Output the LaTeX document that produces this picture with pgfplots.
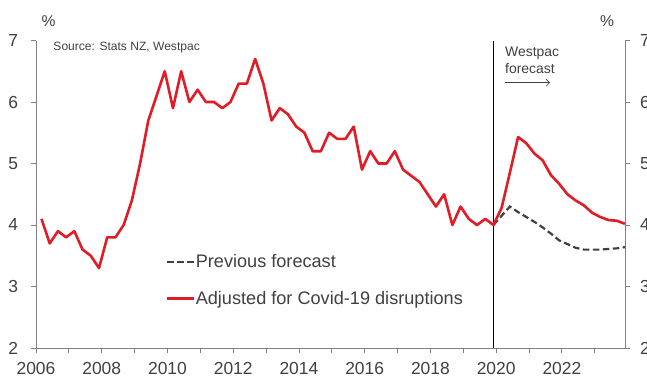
\documentclass[border=0pt]{standalone}
\usepackage{fontspec}
\setmainfont{Liberation Sans}
\usepackage{pgfplots}
\pgfplotsset{compat=1.18}
\usetikzlibrary{arrows.meta}
\definecolor{wred}{RGB}{226,28,38}
\definecolor{dgray}{RGB}{64,64,64}
\definecolor{agray}{RGB}{128,128,128}
\definecolor{tgray}{RGB}{64,64,64}

\begin{document}
\begin{tikzpicture}
\pgfplotsset{
  common/.style={
    at={(0,0)}, anchor=south west,
    scale only axis, width=589bp, height=307.5bp,
    xmin=2006, xmax=2023.92, ymin=2, ymax=7,
    ytick={2,3,4,5,6,7},
    tick align=outside,
    major tick length=5bp, minor tick length=5bp,
    axis line style={agray, line width=0.8bp, -},
    tick style={agray, line width=0.8bp},
    tick label style={font=\fontsize{17.5}{20}\selectfont, text=tgray},
    /pgf/number format/assume math mode=true,
    clip=false,
  }
}
\begin{axis}[common,
  axis x line*=bottom, axis y line*=left,
  xtick={2006,2008,...,2022}, minor xtick={2007,2009,...,2023},
  x tick label style={/pgf/number format/1000 sep={}, anchor=north, inner sep=0pt, yshift=-9bp},
  yticklabel style={anchor=east, inner sep=0pt, xshift=-12.7bp},
  legend style={at={(0.2207,0.2207)}, anchor=west, draw=none, fill=none, inner sep=0pt,
    font=\fontsize{18.2}{21}\selectfont, text=tgray, row sep=21.5bp, column sep=0bp,
    nodes={inner sep=0pt}},
  legend cell align=left,
  legend image code/.code={\draw[#1] (0bp,0bp) -- (27bp,0bp);},
]
\addplot[black, line width=0.9bp, forget plot] coordinates {(2019.917,2) (2019.917,7)};

\addplot[dgray, line width=2.2bp, dash pattern=on 6.5bp off 3.5bp] coordinates {
(2019.917,4.00) (2020.167,4.15) (2020.417,4.30) (2020.667,4.21) (2020.917,4.13)
(2021.167,4.05) (2021.417,3.96) (2021.667,3.86) (2021.917,3.75)
(2022.167,3.69) (2022.417,3.63) (2022.667,3.60) (2022.917,3.60)
(2023.167,3.60) (2023.417,3.61) (2023.667,3.62) (2023.917,3.64)
};
\addlegendentry{Previous forecast}

\addplot[wred, line width=2.6bp, line join=round] coordinates {
(2006.167,4.1) (2006.417,3.7) (2006.667,3.9) (2006.917,3.8)
(2007.167,3.9) (2007.417,3.6) (2007.667,3.5) (2007.917,3.3)
(2008.167,3.8) (2008.417,3.8) (2008.667,4.0) (2008.917,4.4)
(2009.167,5.0) (2009.417,5.7) (2009.667,6.1) (2009.917,6.5)
(2010.167,5.9) (2010.417,6.5) (2010.667,6.0) (2010.917,6.2)
(2011.167,6.0) (2011.417,6.0) (2011.667,5.9) (2011.917,6.0)
(2012.167,6.3) (2012.417,6.3) (2012.667,6.7) (2012.917,6.3)
(2013.167,5.7) (2013.417,5.9) (2013.667,5.8) (2013.917,5.6)
(2014.167,5.5) (2014.417,5.2) (2014.667,5.2) (2014.917,5.5)
(2015.167,5.4) (2015.417,5.4) (2015.667,5.6) (2015.917,4.9)
(2016.167,5.2) (2016.417,5.0) (2016.667,5.0) (2016.917,5.2)
(2017.167,4.9) (2017.417,4.8) (2017.667,4.7) (2017.917,4.5)
(2018.167,4.3) (2018.417,4.5) (2018.667,4.0) (2018.917,4.3)
(2019.167,4.1) (2019.417,4.0) (2019.667,4.1) (2019.917,4.0)
(2020.167,4.28) (2020.417,4.85) (2020.667,5.43) (2020.917,5.33)
(2021.167,5.16) (2021.417,5.05) (2021.667,4.81) (2021.917,4.67)
(2022.167,4.50) (2022.417,4.40) (2022.667,4.32) (2022.917,4.20)
(2023.167,4.13) (2023.417,4.08) (2023.667,4.07) (2023.917,4.02)
};
\addlegendentry{Adjusted for Covid-19 disruptions}
\end{axis}

\begin{axis}[common, axis y line*=right, axis x line=none, xtick=\empty,
  yticklabel style={anchor=west, inner sep=0pt, xshift=10bp}]
\addplot[draw=none] coordinates {(2010,3)};
\end{axis}

\node[anchor=base west, inner sep=0pt, font=\fontsize{12.1}{14}\selectfont, text=tgray] at (17.3bp,297bp) {Source: Stats NZ, Westpac};
\node[anchor=base west, inner sep=0pt, font=\fontsize{14}{17}\selectfont, text=tgray] at (469bp,291.3bp) {Westpac};
\node[anchor=base west, inner sep=0pt, font=\fontsize{14}{17}\selectfont, text=tgray] at (469bp,274.7bp) {forecast};
\draw[tgray, line width=0.6bp, -{Straight Barb[length=3.5bp, width=7bp]}] (469bp,265.3bp) -- (514bp,265.3bp);
\node[anchor=base, inner sep=0pt, font=\fontsize{15.7}{18}\selectfont, text=tgray] at (12.7bp,321.3bp) {\%};
\node[anchor=base, inner sep=0pt, font=\fontsize{15.7}{18}\selectfont, text=tgray] at (571bp,321.3bp) {\%};

\pgfresetboundingbox
\path[use as bounding box] (-36bp,-28bp) rectangle (611bp,348bp);
\end{tikzpicture}
\end{document}
